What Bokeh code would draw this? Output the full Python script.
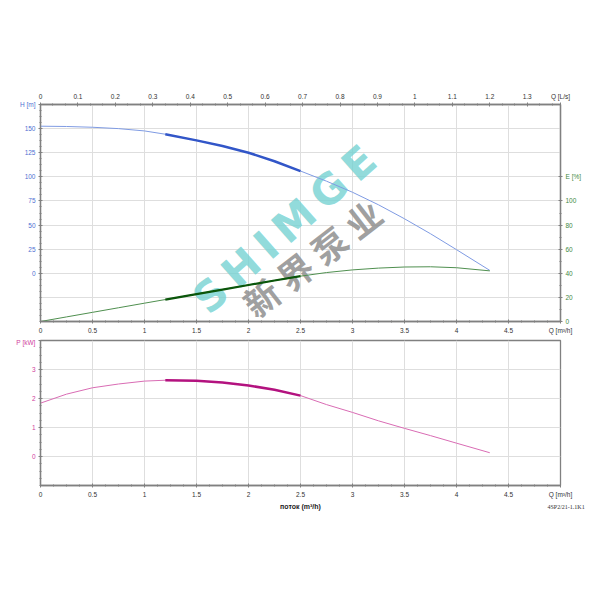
from bokeh.plotting import figure
from bokeh.models import Range1d, LinearAxis, FixedTicker, NumeralTickFormatter, CustomJSTickFormatter
from bokeh.layouts import column
from bokeh.core.properties import value
from bokeh.embed import file_html
from bokeh.resources import INLINE
import math

# ---------------- data ----------------
Q = [0, 0.25, 0.5, 0.75, 1.0, 1.2, 1.5, 1.75, 2.0, 2.25, 2.5, 2.75, 3.0, 3.25, 3.5, 3.75, 4.0, 4.32]
H = [152.5, 152.2, 151.4, 150.0, 147.6, 144.2, 137.8, 132.0, 125.0, 116.2, 106.0, 95.5, 84.0, 71.0, 56.5, 41.0, 24.5, 3.0]
E = [0, 3.8, 7.6, 11.4, 15.2, 18.2, 22.7, 26.5, 30.3, 34.0, 37.6, 40.6, 42.8, 44.3, 45.2, 45.4, 44.6, 42.0]
P = [1.84, 2.15, 2.37, 2.50, 2.60, 2.63, 2.61, 2.55, 2.45, 2.30, 2.10, 1.79, 1.52, 1.23, 0.97, 0.72, 0.46, 0.13]
BEP_RANGE = (1.2, 2.5)   # highlighted (recommended) operating range, m3/h

Q_TICKS = [0, 0.5, 1, 1.5, 2, 2.5, 3, 3.5, 4, 4.5, 5]
LS_TICKS = [0, 0.1, 0.2, 0.3, 0.4, 0.5, 0.6, 0.7, 0.8, 0.9, 1.0, 1.1, 1.2, 1.3]
H_TICKS = [0, 25, 50, 75, 100, 125, 150, 175]
H_GRID = [-25, 0, 25, 50, 75, 100, 125, 150]
E_TICKS = [0, 20, 40, 60, 80, 100, 120]
P_TICKS = [0, 1, 2, 3, 4]
P_GRID = [0, 1, 2, 3]
X_TITLE = "поток (m³/h)"
MODEL = "4SP2/21-1.1K1"

# ---------------- styling ----------------
C_H, C_H_BOLD = "#7f9be3", "#3256c8"
C_E, C_E_BOLD = "#4f8f4f", "#0b560b"
C_P, C_P_BOLD = "#d96cb4", "#b3127f"
C_HAX, C_EAX, C_PAX = "#4f70d2", "#3f8a3f", "#d0409e"
AX = "#808080"
GRID = "#dedede"
FONT = "Liberation Sans"
TICK_FS = "6.5px"

sel = [i for i, q in enumerate(Q) if BEP_RANGE[0] <= q <= BEP_RANGE[1]]


def style_axis(ax, color="#333333"):
    ax.axis_line_color = AX
    ax.axis_line_width = 1.3
    ax.major_tick_line_color = AX
    ax.minor_tick_line_color = AX
    ax.major_tick_in = 2
    ax.major_tick_out = 2
    ax.minor_tick_in = 1
    ax.minor_tick_out = 1
    ax.major_label_text_font = FONT
    ax.major_label_text_font_size = TICK_FS
    ax.major_label_text_color = color
    ax.major_label_standoff = 3


def q_minor():
    return [i * 0.125 for i in range(41)]


# ---------------- top panel: H and E ----------------
top = figure(frame_width=520, frame_height=217,
             x_range=Range1d(0, 5), y_range=Range1d(-50, 175),
             output_backend="svg", toolbar_location=None,
             min_border_left=40, min_border_right=32,
             min_border_top=104, min_border_bottom=17,
             background_fill_color="white", border_fill_color="white")
top.outline_line_color = AX
top.outline_line_width = 1.3
top.extra_x_ranges = {"ls": Range1d(0, 5 / 3.6)}
top.extra_y_ranges = {"E": Range1d(0, 180)}

xb = top.xaxis[0]
xb.ticker = FixedTicker(ticks=Q_TICKS, minor_ticks=q_minor())
xb.formatter = NumeralTickFormatter(format="0.[0]")
xb.major_label_overrides = {5: "Q [m³/h]"}
style_axis(xb)

yl = top.yaxis[0]
yl.ticker = FixedTicker(ticks=H_TICKS, minor_ticks=[-50 + 6.25 * i for i in range(37)])
yl.major_label_overrides = {175: "H [m]"}
style_axis(yl, C_HAX)

xt = LinearAxis(x_range_name="ls")
xt.ticker = FixedTicker(ticks=LS_TICKS + [5 / 3.6], minor_ticks=[i * 0.1 / 3 for i in range(42)])
xt.formatter = CustomJSTickFormatter(
    code="return tick > 1.35 ? 'Q [L/s]' : String(Math.round(tick * 10) / 10);")
style_axis(xt)
top.add_layout(xt, "above")

yr = LinearAxis(y_range_name="E")
yr.ticker = FixedTicker(ticks=E_TICKS, minor_ticks=[10 * i for i in range(11)])
yr.major_label_overrides = {120: "E [%]"}
style_axis(yr, C_EAX)
top.add_layout(yr, "right")

top.xgrid.ticker = FixedTicker(ticks=Q_TICKS)
top.ygrid.ticker = FixedTicker(ticks=H_GRID)
for g in (top.xgrid[0], top.ygrid[0]):
    g.grid_line_color = GRID
    g.grid_line_width = 1

# watermark
top.text(x=[2.346], y=[45.5], text=["S\u2009H\u2009I\u2009M\u2009G\u2009E"], angle=math.radians(41.6),
         text_font=value("DejaVu Sans"), text_font_style="bold", text_font_size="42px",
         text_color="#74d2d2", text_alpha=0.8, text_align="center", text_baseline="middle")
top.text(x=[2.606], y=[16.5], text=["新 界 泵 业"], angle=math.radians(37.8),
         text_font=value("Noto Sans CJK SC"), text_font_style="bold", text_font_size="35px",
         text_color="#8f8f8f", text_alpha=0.85, text_align="center", text_baseline="middle")

top.line(Q, H, line_color=C_H, line_width=1)
top.line([Q[i] for i in sel], [H[i] for i in sel], line_color=C_H_BOLD, line_width=2.5)
top.line(Q, E, y_range_name="E", line_color=C_E, line_width=1)
top.line([Q[i] for i in sel], [E[i] for i in sel], y_range_name="E", line_color=C_E_BOLD, line_width=2.2)

# ---------------- bottom panel: P ----------------
bot = figure(frame_width=520, frame_height=145,
             x_range=Range1d(0, 5), y_range=Range1d(-1, 4),
             output_backend="svg", toolbar_location=None,
             min_border_left=40, min_border_right=32,
             min_border_top=2, min_border_bottom=16,
             background_fill_color="white", border_fill_color="white")
bot.outline_line_color = AX
bot.outline_line_width = 1.3

xb2 = bot.xaxis[0]
xb2.ticker = FixedTicker(ticks=Q_TICKS, minor_ticks=q_minor())
xb2.formatter = NumeralTickFormatter(format="0.[0]")
xb2.major_label_overrides = {5: "Q [m³/h]"}
style_axis(xb2)

yl2 = bot.yaxis[0]
yl2.ticker = FixedTicker(ticks=P_TICKS, minor_ticks=[-1 + 0.25 * i for i in range(21)])
yl2.major_label_overrides = {4: "P [kW]"}
style_axis(yl2, C_PAX)

bot.xgrid.ticker = FixedTicker(ticks=Q_TICKS)
bot.ygrid.ticker = FixedTicker(ticks=P_GRID)
for g in (bot.xgrid[0], bot.ygrid[0]):
    g.grid_line_color = GRID
    g.grid_line_width = 1

bot.line(Q, P, line_color=C_P, line_width=1)
bot.line([Q[i] for i in sel], [P[i] for i in sel], line_color=C_P_BOLD, line_width=2.5)

# ---------------- caption strip (axis title + model name) ----------------
# frame spans from the plot's left edge to the right edge of the page, same Q scale
cap = figure(frame_width=552, frame_height=20,
             x_range=Range1d(0, 5 * 552 / 520), y_range=Range1d(0, 20),
             output_backend="svg", toolbar_location=None,
             x_axis_location=None, y_axis_location=None,
             min_border_left=40, min_border_right=0,
             min_border_top=0, min_border_bottom=0,
             background_fill_color="white", border_fill_color="white")
cap.outline_line_color = None
cap.grid.visible = False
cap.text(x=[2.5], y=[15], text=[X_TITLE], text_font=value(FONT), text_font_style="bold",
         text_font_size="7px", text_color="#222222", text_align="center", text_baseline="middle")
cap.text(x=[4.875], y=[15], text=[MODEL], text_font=value("Liberation Serif"),
         text_font_size="6px", text_color="#333333", text_align="left", text_baseline="middle")

layout = column(top, bot, cap)
open("out.html", "w").write(file_html(layout, INLINE))
